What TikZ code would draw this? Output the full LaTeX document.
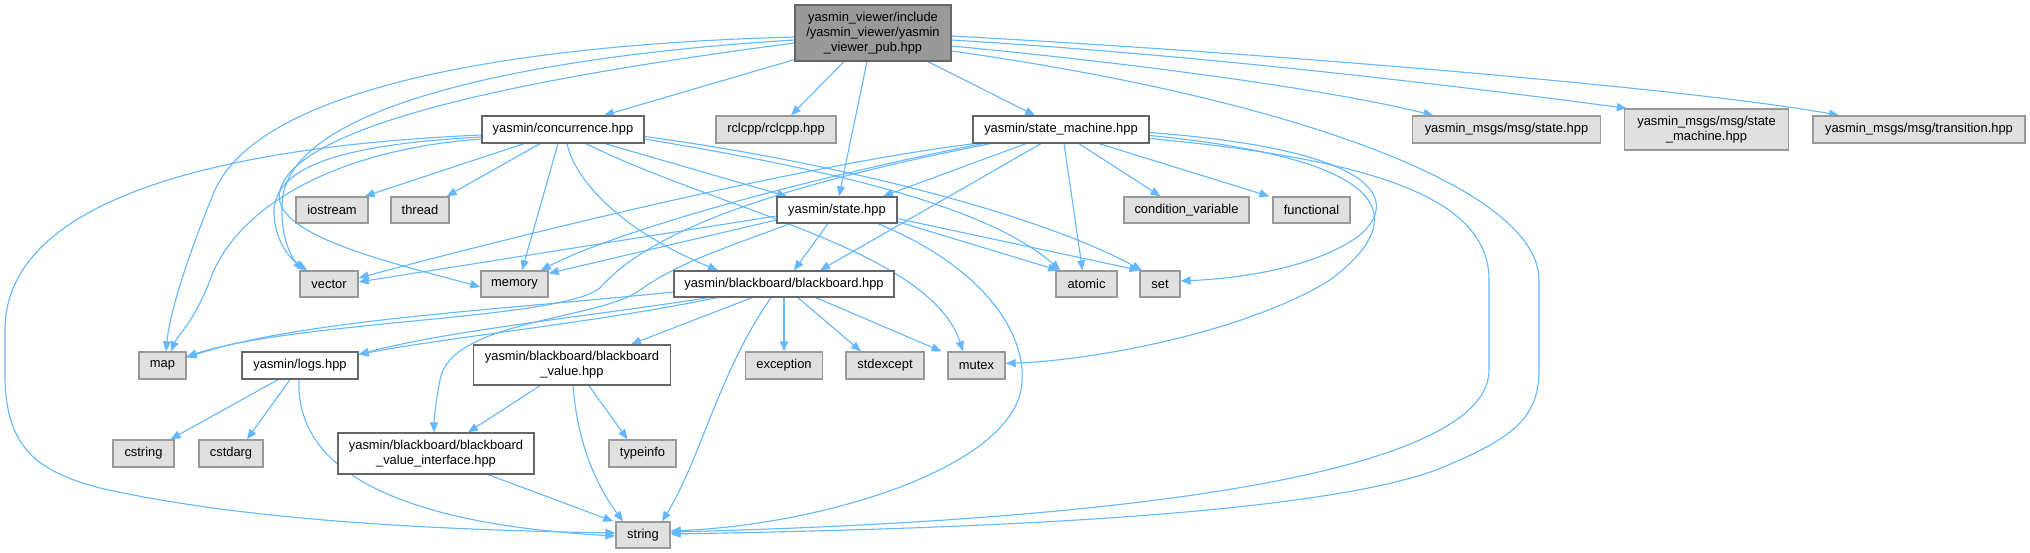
\documentclass[tikz,border=0pt]{standalone}
\usepackage{fontspec}
\setmainfont{Liberation Sans}
\usetikzlibrary{arrows.meta,calc}
\pgfdeclarelayer{bg}
\pgfdeclarelayer{paper}
\pgfsetlayers{paper,bg,main}
\definecolor{edgec}{HTML}{63B8FF}
\definecolor{gfill}{HTML}{E0E0E0}
\definecolor{gdraw}{HTML}{999999}
\definecolor{wdraw}{HTML}{666666}
\definecolor{rfill}{HTML}{999999}
\tikzset{
  base/.style={rectangle, inner sep=0pt, font=\fontsize{12.9}{15}\selectfont, align=center, line width=1.3pt, minimum height=26pt},
  gbox/.style={base, draw=gdraw, fill=gfill},
  wbox/.style={base, draw=wdraw, fill=white},
  rbox/.style={base, draw=wdraw, fill=rfill},
  dep/.style={draw=edgec, line width=1.1pt, -{Triangle[length=10pt,width=8pt]}}
}
\begin{document}
\begin{tikzpicture}[x=1pt,y=-1pt]
\begin{pgfonlayer}{paper}
\fill[white] (0,0) rectangle (2030,553);
\end{pgfonlayer}
\useasboundingbox (0,0) rectangle (2030,553);
% nodes
\node[rbox, minimum width=156pt, minimum height=56pt] (root) at (873,33) {yasmin\_viewer/include\\/yasmin\_viewer/yasmin\\\_viewer\_pub.hpp};
\node[wbox, minimum width=162pt, minimum height=27pt] (conc) at (563,129.5) {yasmin/concurrence.hpp};
\node[gbox, minimum width=120pt, minimum height=27pt] (rcl) at (776,129.5) {rclcpp/rclcpp.hpp};
\node[wbox, minimum width=176pt, minimum height=27pt] (sm) at (1061,129.5) {yasmin/state\_machine.hpp};
\node[gbox, minimum width=188pt, minimum height=27pt] (mst) at (1506.5,129.5) {yasmin\_msgs/msg/state.hpp};
\node[gbox, minimum width=164pt, minimum height=41pt] (msm) at (1706.5,129.5) {yasmin\_msgs/msg/state\\\_machine.hpp};
\node[gbox, minimum width=212pt, minimum height=27pt] (mtr) at (1919,129.5) {yasmin\_msgs/msg/transition.hpp};
\node[gbox, minimum width=72pt] (iostream) at (332,210) {iostream};
\node[gbox, minimum width=58pt] (thread) at (420,210) {thread};
\node[wbox, minimum width=120pt] (state) at (837,210) {yasmin/state.hpp};
\node[gbox, minimum width=125pt] (cv) at (1186.5,210) {condition\_variable};
\node[gbox, minimum width=77pt] (func) at (1311.5,210) {functional};
\node[gbox, minimum width=58pt] (vector) at (329,284) {vector};
\node[gbox, minimum width=67pt] (memory) at (514.5,284) {memory};
\node[wbox, minimum width=220pt] (bb) at (784,284) {yasmin/blackboard/blackboard.hpp};
\node[gbox, minimum width=61pt] (atomic) at (1086.5,284) {atomic};
\node[gbox, minimum width=40pt] (set) at (1160,284) {set};
\node[gbox, minimum width=47pt, minimum height=27pt] (map) at (162.5,365.5) {map};
\node[wbox, minimum width=116pt, minimum height=27pt] (logs) at (300,365.5) {yasmin/logs.hpp};
\node[wbox, minimum width=197pt, minimum height=40pt] (bbv) at (572,365) {yasmin/blackboard/blackboard\\\_value.hpp};
\node[gbox, minimum width=77pt, minimum height=27pt] (exception) at (784,365.5) {exception};
\node[gbox, minimum width=78pt, minimum height=27pt] (stdexcept) at (885,365.5) {stdexcept};
\node[gbox, minimum width=57pt, minimum height=27pt] (mutex) at (976.5,365.5) {mutex};
\node[gbox, minimum width=61pt, minimum height=27pt] (cstring) at (143.5,453.5) {cstring};
\node[gbox, minimum width=64pt, minimum height=27pt] (cstdarg) at (231,453.5) {cstdarg};
\node[wbox, minimum width=196pt, minimum height=41pt] (bvi) at (436,453.5) {yasmin/blackboard/blackboard\\\_value\_interface.hpp};
\node[gbox, minimum width=67pt, minimum height=27pt] (typeinfo) at (642.5,453.5) {typeinfo};
\node[gbox, minimum width=54pt] (string) at (643,535) {string};
% edges
\begin{pgfonlayer}{bg}
% root
\draw[dep] ([yshift=2pt]root.south west) -- ([xshift=41pt]conc.north);
\draw[dep] ([xshift=-29pt]root.south) -- ([xshift=15pt]rcl.north);
\draw[dep] ([xshift=-6pt]root.south) -- ([xshift=2pt]state.north);
\draw[dep] ([xshift=55pt]root.south) -- ([xshift=-26pt]sm.north);
\draw[dep] ([yshift=-13pt]root.east) .. controls (1150,65) and (1330,90) .. ([xshift=-73pt]mst.north);
\draw[dep] ([yshift=-7pt]root.east) .. controls (1200,55) and (1450,85) .. ([xshift=3pt]msm.north west);
\draw[dep] ([yshift=-3pt]root.east) .. controls (1300,55) and (1700,90) .. ([xshift=-80pt]mtr.north);
\draw[dep] ([yshift=-18pt]root.east) .. controls (1300,100) and (1539,190) .. (1539,280) -- (1539,370) .. controls (1539,420) and (1510,440) .. (1436,470) .. controls (1300,520) and (900,530) .. ([yshift=1pt]string.east);
\draw[dep] ([yshift=-4pt]root.west) .. controls (500,45) and (260,90) .. (215,190) .. controls (190,250) and (170,310) .. ([xshift=3.5pt]map.north);
\draw[dep] ([yshift=-7pt]root.west) .. controls (550,55) and (300,100) .. (283,195) .. controls (278,235) and (292,258) .. ([xshift=-26pt]vector.north);
\draw[dep] ([yshift=-10pt]root.west) .. controls (550,75) and (300,120) .. (280,190) .. controls (268,235) and (390,262) .. ([yshift=-3pt]memory.west);
% concurrence
\draw[dep] ([yshift=-5.5pt]conc.west) .. controls (250,145) and (5,190) .. (5,330) -- (5,375) .. controls (5,450) and (40,472) .. (100,488) .. controls (250,522) and (450,530) .. ([yshift=2pt]string.west);
\draw[dep] ([yshift=-9.5pt]conc.west) .. controls (330,150) and (235,210) .. (210,280) .. controls (195,320) and (178,335) .. ([xshift=8.5pt]map.north);
\draw[dep] ([yshift=-7.5pt]conc.west) .. controls (330,145) and (272,170) .. (274,215) .. controls (276,245) and (292,260) .. ([xshift=-22pt]vector.north);
\draw[dep] ([xshift=-5pt]conc.south) -- ([xshift=7.5pt]memory.north);
\draw[dep] ([xshift=-39pt]conc.south) -- ([xshift=-4pt]iostream.north east);
\draw[dep] ([xshift=-23pt]conc.south) -- ([xshift=-3pt]thread.north east);
\draw[dep] ([xshift=4pt]conc.south) .. controls (575,180) and (620,230) .. ([xshift=-66pt]bb.north);
\draw[dep] ([xshift=42pt]conc.south) -- ([xshift=-50pt]state.north);
\draw[dep] ([xshift=23pt]conc.south) .. controls (720,210) and (930,250) .. ([xshift=-13.5pt]mutex.north);
\draw[dep] ([yshift=-9.5pt]conc.east) .. controls (800,165) and (980,200) .. ([xshift=-26pt]atomic.north);
\draw[dep] ([yshift=-7pt]conc.east) .. controls (820,160) and (1030,210) .. ([xshift=-18pt]set.north);
% state
\draw[dep] ([yshift=-6pt]state.west) -- ([yshift=2pt]vector.east);
\draw[dep] ([yshift=-10pt]state.west) -- ([yshift=-3pt]memory.north east);
\draw[dep] ([xshift=-9pt]state.south) -- ([xshift=10pt]bb.north);
\draw[dep] ([yshift=2pt]state.south east) -- ([xshift=3pt]atomic.north west);
\draw[dep] ([yshift=5pt]state.south east) -- (set.north west);
\draw[dep] ([xshift=41pt]state.south) .. controls (990,270) and (1030,340) .. (1021,390) .. controls (1005,470) and (820,525) .. ([yshift=4pt]string.east);
\draw[dep] ([xshift=-47pt]state.south) .. controls (720,250) and (680,262) .. (640,290) .. controls (600,320) and (450,320) .. (440,380) .. controls (436,400) and (434,420) .. ([xshift=-2pt]bvi.north);
% state machine
\draw[dep] ([xshift=-35pt]sm.south) -- ([xshift=46pt]state.north);
\draw[dep] ([xshift=-20pt]sm.south) -- ([xshift=36pt]bb.north);
\draw[dep] ([xshift=3pt]sm.south) -- ([xshift=-4pt]atomic.north);
\draw[dep] ([xshift=18pt]sm.south) -- ([xshift=-26pt]cv.north);
\draw[dep] ([xshift=38pt]sm.south) -- ([xshift=-3pt]func.north west);
\draw[dep] ([xshift=2pt]sm.south west) .. controls (800,165) and (500,240) .. ([yshift=6pt]vector.east);
\draw[dep] ([xshift=10pt]sm.south west) .. controls (800,180) and (620,230) .. ([xshift=26pt]memory.north);
\draw[dep] ([xshift=18pt]sm.south west) .. controls (780,185) and (650,230) .. (600,288) .. controls (560,320) and (300,320) .. ([yshift=9pt]map.east);
\draw[dep] ([yshift=-3pt]sm.east) .. controls (1380,150) and (1400,200) .. (1360,235) .. controls (1320,265) and (1250,278) .. ([yshift=3pt]set.east);
\draw[dep] ([yshift=-6pt]sm.east) .. controls (1400,160) and (1410,220) .. (1330,280) .. controls (1250,330) and (1100,360) .. ([yshift=2pt]mutex.east);
\draw[dep] ([yshift=-9pt]sm.east) .. controls (1380,160) and (1489,200) .. (1489,280) -- (1489,370) .. controls (1489,470) and (1150,520) .. ([yshift=3pt]string.east);
% blackboard
\draw[dep] ([yshift=-8pt]bb.west) .. controls (500,310) and (300,320) .. ([yshift=8pt]map.east);
\draw[dep] ([xshift=-76pt]bb.south) .. controls (600,315) and (450,330) .. ([yshift=11pt]logs.east);
\draw[dep] ([xshift=-67pt]bb.south) .. controls (600,322) and (450,337) .. ([yshift=11pt]logs.east);
\draw[dep] ([xshift=-32pt]bb.south) -- ([xshift=59pt]bbv.north);
\draw[dep] (bb.south) -- (exception.north);
\draw[dep] ([xshift=14pt]bb.south) -- ([xshift=-24pt]stdexcept.north);
\draw[dep] ([xshift=32pt]bb.south) -- ([xshift=-35pt]mutex.north);
\draw[dep] ([xshift=-13pt]bb.south) .. controls (720,370) and (700,460) .. ([xshift=19pt]string.north);
% blackboard value
\draw[dep] ([xshift=-32pt]bbv.south) -- ([xshift=32pt]bvi.north);
\draw[dep] ([xshift=17pt]bbv.south) -- ([xshift=-15pt]typeinfo.north);
\draw[dep] ([xshift=1pt]bbv.south) .. controls (578,450) and (600,490) .. ([xshift=-20pt]string.north);
\draw[dep] ([xshift=52pt]bvi.south) -- ([xshift=-2pt]string.north west);
% logs
\draw[dep] ([xshift=-22pt]logs.south) -- ([xshift=27pt]cstring.north);
\draw[dep] ([xshift=-10pt]logs.south) -- ([xshift=16pt]cstdarg.north);
\draw[dep] ([xshift=-1pt]logs.south) .. controls (295,480) and (420,525) .. ([yshift=-1pt]string.west);
\end{pgfonlayer}
\end{tikzpicture}
\end{document}
